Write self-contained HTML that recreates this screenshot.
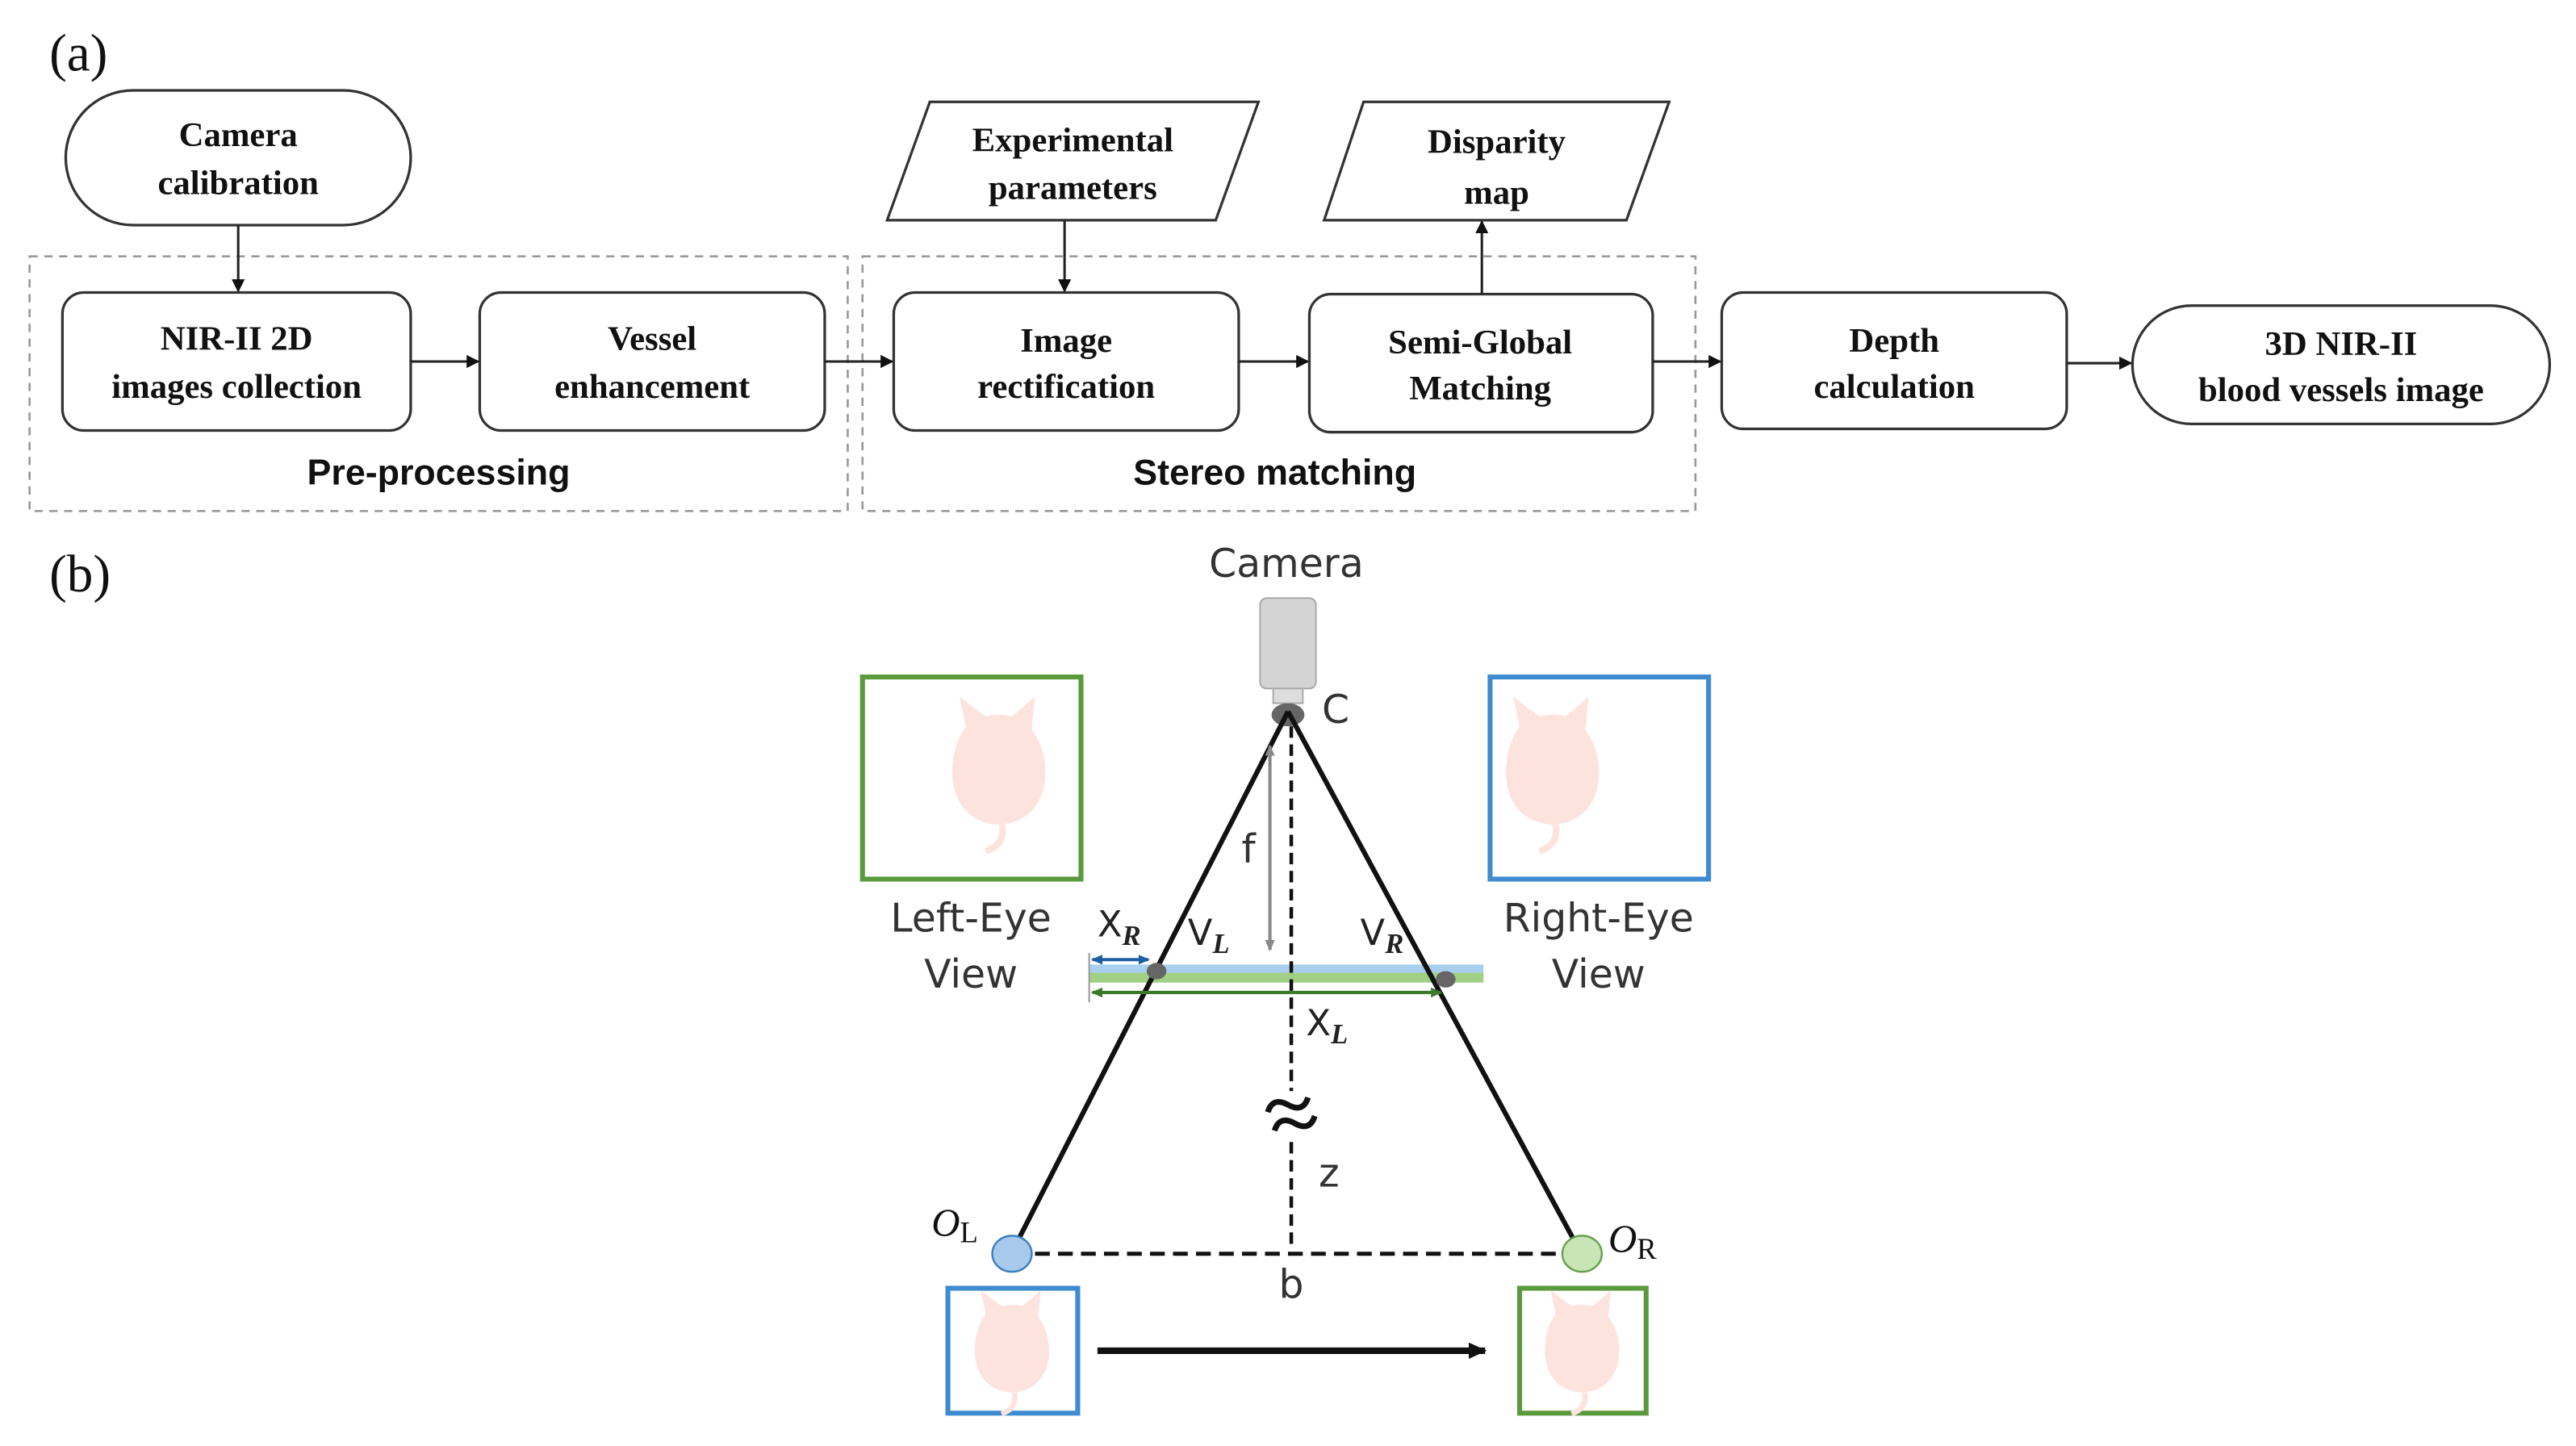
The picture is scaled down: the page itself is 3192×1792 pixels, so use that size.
<!DOCTYPE html>
<html><head><meta charset="utf-8"><style>
html,body{margin:0;padding:0;background:#fff;}
svg{display:block;}
.s{font-family:"Liberation Serif",serif;font-weight:bold;font-size:21px;fill:#111;text-anchor:middle;}
.g{font-family:"DejaVu Sans","Liberation Sans",sans-serif;font-size:24px;fill:#333;text-anchor:middle;}
.b{fill:#fff;stroke:#333;stroke-width:1.6;}
</style></head><body>
<svg width="3192" height="1792" viewBox="0 0 1568 880" preserveAspectRatio="none" xmlns="http://www.w3.org/2000/svg">
<defs>
<marker id="a" markerWidth="8" markerHeight="8" refX="7" refY="4" orient="auto" markerUnits="userSpaceOnUse"><path d="M0,0 L8,4 L0,8 z" fill="#111"/></marker>
<marker id="ab" markerWidth="8" markerHeight="8" refX="6" refY="4" orient="auto-start-reverse" markerUnits="userSpaceOnUse"><path d="M0,1 L7,4 L0,7 z" fill="#1f5fa0"/></marker>
<marker id="ag" markerWidth="8" markerHeight="8" refX="6" refY="4" orient="auto-start-reverse" markerUnits="userSpaceOnUse"><path d="M0,1 L7,4 L0,7 z" fill="#3a7a2a"/></marker>
<marker id="agr" markerWidth="8" markerHeight="8" refX="6" refY="4" orient="auto-start-reverse" markerUnits="userSpaceOnUse"><path d="M0,1 L7,4 L0,7 z" fill="#888"/></marker>
<marker id="abig" markerWidth="12" markerHeight="12" refX="10" refY="6" orient="auto" markerUnits="userSpaceOnUse"><path d="M0,1 L11,6 L0,11 z" fill="#111"/></marker>
<g id="cat"><path d="M-20,-28 L-24,-46 L-8,-34 Q0,-36 8,-34 L22,-46 L20,-26 Q30,-12 28,6 Q24,30 0,32 Q-24,30 -28,6 Q-30,-14 -20,-28 z" fill="#fde3de"/><path d="M2,32 Q4,44 -8,48" stroke="#fde3de" stroke-width="4" fill="none"/></g>
</defs>
<text x="30" y="43" font-family="Liberation Serif,serif" font-size="32" fill="#111">(a)</text>
<text x="30" y="360" font-family="Liberation Serif,serif" font-size="32" fill="#111">(b)</text>
<rect x="18" y="156" width="498" height="155" fill="none" stroke="#999" stroke-width="1.3" stroke-dasharray="5,4"/>
<rect x="525" y="156" width="507" height="155" fill="none" stroke="#999" stroke-width="1.3" stroke-dasharray="5,4"/>
<rect class="b" x="40" y="55" width="210" height="82" rx="41"/>
<text class="s" x="145" y="89">Camera</text><text class="s" x="145" y="118">calibration</text>
<rect class="b" x="38" y="178" width="212" height="84" rx="13"/>
<text class="s" x="144" y="213">NIR-II 2D</text><text class="s" x="144" y="242">images collection</text>
<rect class="b" x="292" y="178" width="210" height="84" rx="13"/>
<text class="s" x="397" y="213">Vessel</text><text class="s" x="397" y="242">enhancement</text>
<path class="b" d="M566,62 L766,62 L740,134 L540,134 z"/>
<text class="s" x="653" y="92">Experimental</text><text class="s" x="653" y="121">parameters</text>
<path class="b" d="M830,62 L1016,62 L990,134 L806,134 z"/>
<text class="s" x="911" y="93" font-size="25">Disparity</text><text class="s" x="911" y="124" font-size="25">map</text>
<rect class="b" x="544" y="178" width="210" height="84" rx="13"/>
<text class="s" x="649" y="214">Image</text><text class="s" x="649" y="242">rectification</text>
<rect class="b" x="797" y="179" width="209" height="84" rx="13"/>
<text class="s" x="901" y="215">Semi-Global</text><text class="s" x="901" y="243">Matching</text>
<rect class="b" x="1048" y="178" width="210" height="83" rx="13"/>
<text class="s" x="1153" y="214">Depth</text><text class="s" x="1153" y="242">calculation</text>
<rect class="b" x="1298" y="186" width="254" height="72" rx="36"/>
<text class="s" x="1425" y="216">3D NIR-II</text><text class="s" x="1425" y="244">blood vessels image</text>
<text x="267" y="295" font-family="Liberation Sans,sans-serif" font-weight="bold" font-size="22" fill="#111" text-anchor="middle">Pre-processing</text>
<text x="776" y="295" font-family="Liberation Sans,sans-serif" font-weight="bold" font-size="22" fill="#111" text-anchor="middle">Stereo matching</text>
<g stroke="#222" stroke-width="1.5" fill="none">
<line x1="145" y1="137" x2="145" y2="177" marker-end="url(#a)"/>
<line x1="250" y1="220" x2="291" y2="220" marker-end="url(#a)"/>
<line x1="502" y1="220" x2="543" y2="220" marker-end="url(#a)"/>
<line x1="648" y1="134" x2="648" y2="177" marker-end="url(#a)"/>
<line x1="754" y1="220" x2="796" y2="220" marker-end="url(#a)"/>
<line x1="902" y1="179" x2="902" y2="135" marker-end="url(#a)"/>
<line x1="1006" y1="220" x2="1047" y2="220" marker-end="url(#a)"/>
<line x1="1258" y1="221" x2="1297" y2="221" marker-end="url(#a)"/>
</g>
<text class="g" x="783" y="351">Camera</text>
<rect x="767" y="364" width="34" height="55" rx="4" fill="#d4d4d4" stroke="#aaa"/>
<rect x="775" y="419" width="18" height="9" fill="#ddd" stroke="#aaa"/>
<ellipse cx="784" cy="435" rx="10" ry="7" fill="#666"/>
<text class="g" x="813" y="440">C</text>
<rect x="525" y="412" width="133" height="123" fill="#fff" stroke="#5a9a3c" stroke-width="3"/>
<use href="#cat" x="608" y="470"/>
<rect x="907" y="412" width="133" height="123" fill="#fff" stroke="#3f8bd0" stroke-width="3"/>
<use href="#cat" x="945" y="470"/>
<text class="g" x="591" y="567">Left-Eye</text><text class="g" x="591" y="601">View</text>
<text class="g" x="973" y="567">Right-Eye</text><text class="g" x="973" y="601">View</text>
<rect x="663" y="587" width="240" height="5" fill="#a8cfee"/>
<rect x="663" y="592" width="240" height="6" fill="#9fd083"/>
<line x1="784" y1="433" x2="616" y2="762" stroke="#111" stroke-width="3"/>
<line x1="784" y1="433" x2="962" y2="762" stroke="#111" stroke-width="3"/>
<line x1="786" y1="442" x2="786" y2="758" stroke="#111" stroke-width="2.2" stroke-dasharray="7,4"/>
<line x1="773" y1="454" x2="773" y2="578" stroke="#888" stroke-width="2" marker-start="url(#agr)" marker-end="url(#agr)"/>
<text class="g" x="760" y="525">f</text>
<line x1="665" y1="584" x2="699" y2="584" stroke="#1f5fa0" stroke-width="2" marker-start="url(#ab)" marker-end="url(#ab)"/>
<line x1="665" y1="604" x2="877" y2="604" stroke="#3a7a2a" stroke-width="2" marker-start="url(#ag)" marker-end="url(#ag)"/>
<line x1="663" y1="580" x2="663" y2="610" stroke="#999" stroke-width="1"/>
<ellipse cx="704" cy="591" rx="6" ry="5" fill="#666"/>
<ellipse cx="880" cy="596" rx="6" ry="5" fill="#666"/>
<text x="668" y="570" font-family="DejaVu Sans,sans-serif" font-size="22" fill="#222">X<tspan font-family="Liberation Serif,serif" font-style="italic" font-weight="bold" font-size="17" dy="5">R</tspan></text>
<text x="723" y="575" font-family="DejaVu Sans,sans-serif" font-size="22" fill="#222">V<tspan font-family="Liberation Serif,serif" font-style="italic" font-weight="bold" font-size="17" dy="5">L</tspan></text>
<text x="828" y="575" font-family="DejaVu Sans,sans-serif" font-size="22" fill="#222">V<tspan font-family="Liberation Serif,serif" font-style="italic" font-weight="bold" font-size="17" dy="5">R</tspan></text>
<text x="795" y="630" font-family="DejaVu Sans,sans-serif" font-size="22" fill="#222">X<tspan font-family="Liberation Serif,serif" font-style="italic" font-weight="bold" font-size="17" dy="5">L</tspan></text>
<rect x="772" y="664" width="28" height="28" fill="#fff"/>
<path d="M773,672 Q779,664 786,672 Q793,680 799,672 M773,684 Q779,676 786,684 Q793,692 799,684" stroke="#111" stroke-width="3.5" fill="none" transform="rotate(-20 786 678)"/>
<text class="g" x="809" y="722">z</text>
<line x1="616" y1="763" x2="962" y2="763" stroke="#111" stroke-width="2.5" stroke-dasharray="9,5"/>
<ellipse cx="616" cy="763" rx="12" ry="11" fill="#a7c9ec" stroke="#3f7fbf" stroke-width="1.2"/>
<ellipse cx="963" cy="763" rx="12" ry="11" fill="#c9e5b5" stroke="#6aa050" stroke-width="1.2"/>
<text x="567" y="752" font-family="Liberation Serif,serif" font-style="italic" font-size="24" fill="#111">O<tspan font-style="normal" font-size="18" dy="4">L</tspan></text>
<text x="979" y="762" font-family="Liberation Serif,serif" font-style="italic" font-size="24" fill="#111">O<tspan font-style="normal" font-size="18" dy="4">R</tspan></text>
<text class="g" x="786" y="790">b</text>
<rect x="577" y="784" width="79" height="76" fill="#fff" stroke="#3f8bd0" stroke-width="3"/>
<g transform="translate(616,822) scale(0.8)"><use href="#cat"/></g>
<rect x="925" y="784" width="77" height="76" fill="#fff" stroke="#5a9a3c" stroke-width="3"/>
<g transform="translate(963,822) scale(0.8)"><use href="#cat"/></g>
<line x1="668" y1="822" x2="904" y2="822" stroke="#111" stroke-width="4" marker-end="url(#abig)"/>
</svg>
</body></html>
